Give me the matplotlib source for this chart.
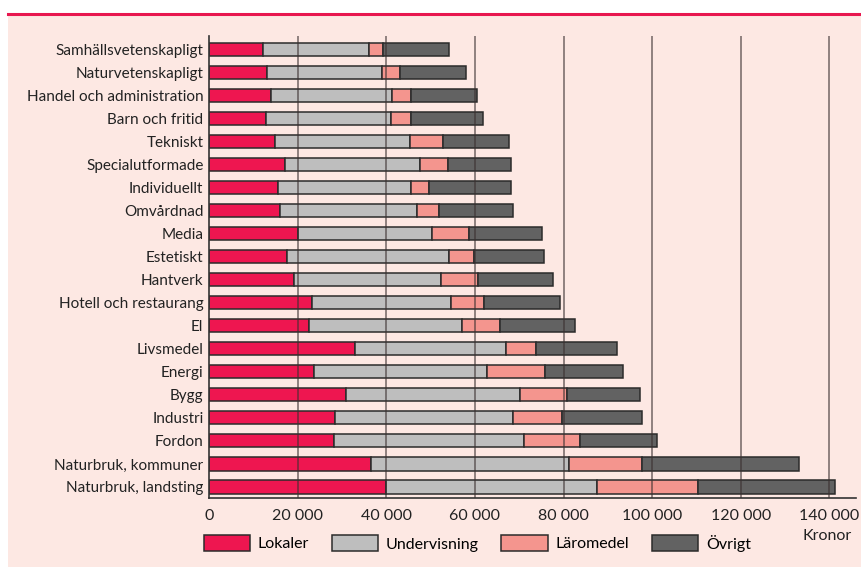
import matplotlib

matplotlib.use("Agg")

import matplotlib.pyplot as plt
import numpy as np
from matplotlib.lines import Line2D
from matplotlib.patches import Rectangle

# program, top to bottom
programs = [
    "Samhällsvetenskapligt", "Naturvetenskapligt", "Handel och administration",
    "Barn och fritid", "Tekniskt", "Specialutformade", "Individuellt",
    "Omvårdnad", "Media", "Estetiskt", "Hantverk", "Hotell och restaurang",
    "El", "Livsmedel", "Energi", "Bygg", "Industri", "Fordon",
    "Naturbruk, kommuner", "Naturbruk, landsting",
]
lokaler = [12100, 13200, 14100, 12800, 14800, 17200, 15500, 16000, 20000, 17500,
           19300, 23200, 22600, 33000, 23600, 30900, 28400, 28300, 36500, 40000]
undervisning = [23900, 25800, 27300, 28300, 30500, 30400, 30100, 31000, 30300, 36600,
                33000, 31400, 34400, 34000, 39100, 39300, 40300, 42800, 44700, 47600]
laromedel = [3200, 4200, 4100, 4600, 7400, 6300, 4100, 4800, 8400, 5800,
             8400, 7500, 8700, 6800, 13200, 10600, 11000, 12600, 16600, 22700]
ovrigt = [14900, 14800, 14900, 16200, 15100, 14300, 18500, 16700, 16400, 15800,
          16900, 17100, 16800, 18200, 17500, 16500, 17900, 17300, 35400, 30900]

series = ["Lokaler", "Undervisning", "Läromedel", "Övrigt"]
xticks = [0, 20000, 40000, 60000, 80000, 100000, 120000, 140000]

PINK = "#FDE8E3"
RED = "#E8174F"
COLORS = ["#EE1650", "#BEBEBE", "#F4958E", "#626262"]
EDGE = "#2B2B2B"

plt.rcParams["font.family"] = ["Lato", "DejaVu Sans"]

fig = plt.figure(figsize=(8.61, 5.67), dpi=100)
fig.patch.set_facecolor("white")

# pink panel under everything
bg = fig.add_axes([0, 0, 1, 1], zorder=0)
bg.axis("off")
bg.set_xlim(0, 1)
bg.set_ylim(0, 1)
bg.add_patch(Rectangle((0.009, 0), 0.991, 0.975, facecolor=PINK, edgecolor="none"))
bg.add_line(Line2D([0.009, 1], [0.975, 0.975], color=RED, lw=2.2))

ax = fig.add_axes([0.2427, 0.1217, 0.7515, 0.8148], zorder=2)
ax.set_facecolor("none")

y = np.arange(len(programs))
left = np.zeros(len(programs))
for name, vals, col in zip(series, [lokaler, undervisning, laromedel, ovrigt], COLORS):
    ax.barh(y, vals, left=left, height=0.57, color=col, edgecolor=EDGE,
            linewidth=1.1, label=name, zorder=2)
    left += np.array(vals)

for xv in xticks[1:]:
    ax.axvline(xv, color="#3a3030", lw=1.3, alpha=0.6, zorder=3)

ax.set_xlim(0, 146000)
ax.set_ylim(19.48, -0.6)
ax.set_yticks(y)
ax.set_yticklabels(programs, fontsize=11, color="#222222")
ax.set_xticks(xticks)
ax.set_xticklabels([f"{v:,}".replace(",", " ") for v in xticks], fontsize=11.5,
                   color="#222222")
ax.tick_params(axis="both", length=0, pad=4)
ax.tick_params(axis="x", pad=8)
for s in ["top", "right"]:
    ax.spines[s].set_visible(False)
for s in ["left", "bottom"]:
    ax.spines[s].set_color("#333333")
    ax.spines[s].set_linewidth(1.2)

fig.text(827 / 861, 1 - 536 / 567, "Kronor", ha="center", va="center",
         fontsize=11.5, color="#222222", zorder=5)

handles, labels = ax.get_legend_handles_labels()
leg = fig.legend(handles, labels, loc="center left",
                 bbox_to_anchor=(0.229, 1 - 543 / 567), ncol=4, frameon=False,
                 fontsize=11.5, handlelength=2.9, handleheight=1.1,
                 handletextpad=0.5, columnspacing=1.4, borderaxespad=0)
leg.set_zorder(5)

fig.savefig("out.png", dpi=100, facecolor=fig.get_facecolor())
